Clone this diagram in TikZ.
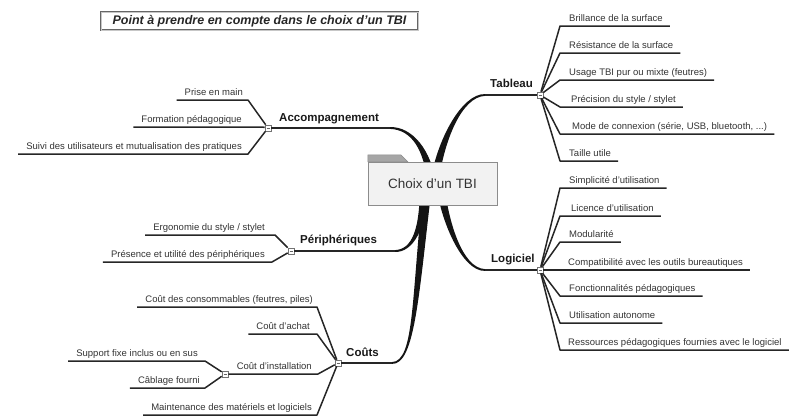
\documentclass[tikz,border=0pt]{standalone}
\usepackage{fontspec}
\setmainfont{Liberation Sans}
\usetikzlibrary{calc}
\newcommand\rleaf[6]{% name, parent, y, underline start x, text x, text
  \node[leaf, anchor=base west] (#1) at (#5,#3-5) {#6};
  \coordinate (#1s) at (#4,#3);
  \coordinate (#1e) at ($(#1.base east)+(7,5)$);
  \draw[ul] (#2) -- (#1s) -- (#1e);
}
\newcommand\lleaf[6]{% name, parent, y, bend x, text right x, text
  \node[leaf, anchor=base east] (#1) at (#5,#3-5) {#6};
  \coordinate (#1e) at (#4,#3);
  \coordinate (#1s) at ($(#1.base west)+(-8,5)$);
  \draw[ul] (#1s) -- (#1e) -- (#2);
}
\newcommand\taper[5]{% origin, c1, c2, end, side
  \fill[black!92] ($(#1)+(-4.2,0)$) .. controls ($(#2)+(-3.8,0)$) and ($(#3)+(0,#5*1.7)$) .. ($(#4)+(0,#5*0.9)$)
     -- ($(#4)+(0,-#5*0.9)$) .. controls ($(#3)+(0,-#5*1.7)$) and ($(#2)+(3.8,0)$) .. ($(#1)+(4.2,0)$) -- cycle;
}
\begin{document}
\begin{tikzpicture}[x=1pt,y=-1pt,
  leaf/.style={font=\fontsize{9.5}{11}\selectfont, text=black!80, inner sep=0pt},
  topic/.style={font=\fontsize{11.5}{13}\selectfont\bfseries, text=black!90, inner sep=0pt},
  ul/.style={line width=1.5pt, draw=black!85, line join=round},
  sq/.style={draw=black!55, fill=white, minimum size=6pt, inner sep=0pt, line width=0.6pt,
    path picture={\draw[black!60, line width=0.5pt] ([xshift=1.5pt]path picture bounding box.west) -- ([xshift=-1.5pt]path picture bounding box.east);}},
]
\useasboundingbox (0,0) rectangle (794,418);

% title
\node[draw=black!60, line width=0.6pt, double=black!22, double distance=0.7pt,
  minimum width=317pt, minimum height=18pt, inner sep=0pt,
  font=\fontsize{12.5}{14}\selectfont\bfseries\itshape, text=black!85] (title) at (259.5,21) {Point à prendre en compte dans le choix d'un TBI};

% squares
\node[sq] (sqA) at (268,128) {};
\node[sq] (sqT) at (540,95) {};
\node[sq] (sqL) at (540,270) {};
\node[sq] (sqP) at (291,251) {};
\node[sq] (sqC) at (338,363) {};
\node[sq] (sqI) at (225,374) {};

% branch origins / ends
\coordinate (oA) at (432,185);
\coordinate (oT) at (434,185);
\coordinate (oL) at (440,183);
\coordinate (oP) at (424,183);
\coordinate (oC) at (428,183);
\coordinate (eA) at (390,128);
\coordinate (eT) at (485,95);
\coordinate (eL) at (485,270);
\coordinate (eP) at (395,251);
\coordinate (eC) at (392,363);

\taper{oA}{428,150}{412,128}{eA}{1}
\taper{oT}{440,140}{462,95}{eT}{-1}
\taper{oL}{444,220}{462,270}{eL}{1}
\taper{oP}{424,230}{412,251}{eP}{-1}
\taper{oC}{415,295}{415,363}{eC}{-1}

\draw[ul] (sqA) -- (eA);
\draw[ul] (sqT) -- (eT);
\draw[ul] (sqL) -- (eL);
\draw[ul] (sqP) -- (eP);
\draw[ul] (sqC) -- (eC);

% topic labels
\node[topic, anchor=base west] (Acc) at (279,121) {Accompagnement};
\node[topic, anchor=base west] (Tab) at (490,87) {Tableau};
\node[topic, anchor=base west] (Log) at (491,262) {Logiciel};
\node[topic, anchor=base west] (Per) at (300,243) {Périphériques};
\node[topic, anchor=base west] (Cou) at (346,356) {Coûts};

% center
\node[draw=black!45, fill=black!5, minimum width=129pt, minimum height=43pt, inner sep=0pt,
  font=\fontsize{13.5}{15}\selectfont, text=black!80] (center) at (432.5,183.5) {Choix d'un TBI};
\filldraw[fill=black!35, draw=black!45, line width=0.5pt] (center.north west) -- ($(center.north west)+(0,-7)$)
  -- ($(center.north west)+(33,-7)$) -- ($(center.north west)+(40,0)$) -- cycle;

% Tableau
\rleaf{T1}{sqT}{26}{560}{569}{Brillance de la surface}
\rleaf{T2}{sqT}{53}{560}{569}{Résistance de la surface}
\rleaf{T3}{sqT}{80}{560}{569}{Usage TBI pur ou mixte (feutres)}
\rleaf{T4}{sqT}{107}{560}{571}{Précision du style / stylet}
\rleaf{T5}{sqT}{134}{560}{572}{Mode de connexion (série, USB, bluetooth, ...)}
\rleaf{T6}{sqT}{161}{560}{569}{Taille utile}

% Logiciel
\rleaf{L1}{sqL}{188}{560}{569}{Simplicité d'utilisation}
\rleaf{L2}{sqL}{216}{560}{571}{Licence d'utilisation}
\rleaf{L3}{sqL}{242}{560}{569}{Modularité}
\rleaf{L4}{sqL}{270}{548}{568}{Compatibilité avec les outils bureautiques}
\rleaf{L5}{sqL}{296}{560}{569}{Fonctionnalités pédagogiques}
\rleaf{L6}{sqL}{323}{560}{569}{Utilisation autonome}
\rleaf{L7}{sqL}{350}{560}{568}{Ressources pédagogiques fournies avec le logiciel}

% Accompagnement
\lleaf{A1}{sqA}{100}{248}{243}{Prise en main}
\lleaf{A2}{sqA}{127}{262}{242}{Formation pédagogique}
\lleaf{A3}{sqA}{154}{248}{242}{Suivi des utilisateurs et mutualisation des pratiques}

% Peripheriques
\lleaf{P1}{sqP}{235}{275}{265}{Ergonomie du style / stylet}
\lleaf{P2}{sqP}{262}{272}{265}{Présence et utilité des périphériques}

% Couts
\lleaf{C1}{sqC}{307}{317}{313}{Coût des consommables (feutres, piles)}
\lleaf{C2}{sqC}{334}{317}{310}{Coût d'achat}
\node[leaf, anchor=base east] (C3) at (312,369) {Coût d'installation};
\coordinate (C3e) at (318,374);
\draw[ul] (sqI) -- (C3e) -- (sqC);
\lleaf{C4}{sqC}{415}{317}{312}{Maintenance des matériels et logiciels}
\lleaf{I1}{sqI}{361}{205}{198}{Support fixe inclus ou en sus}
\lleaf{I2}{sqI}{388}{205}{200}{Câblage fourni}
\end{tikzpicture}
\end{document}
